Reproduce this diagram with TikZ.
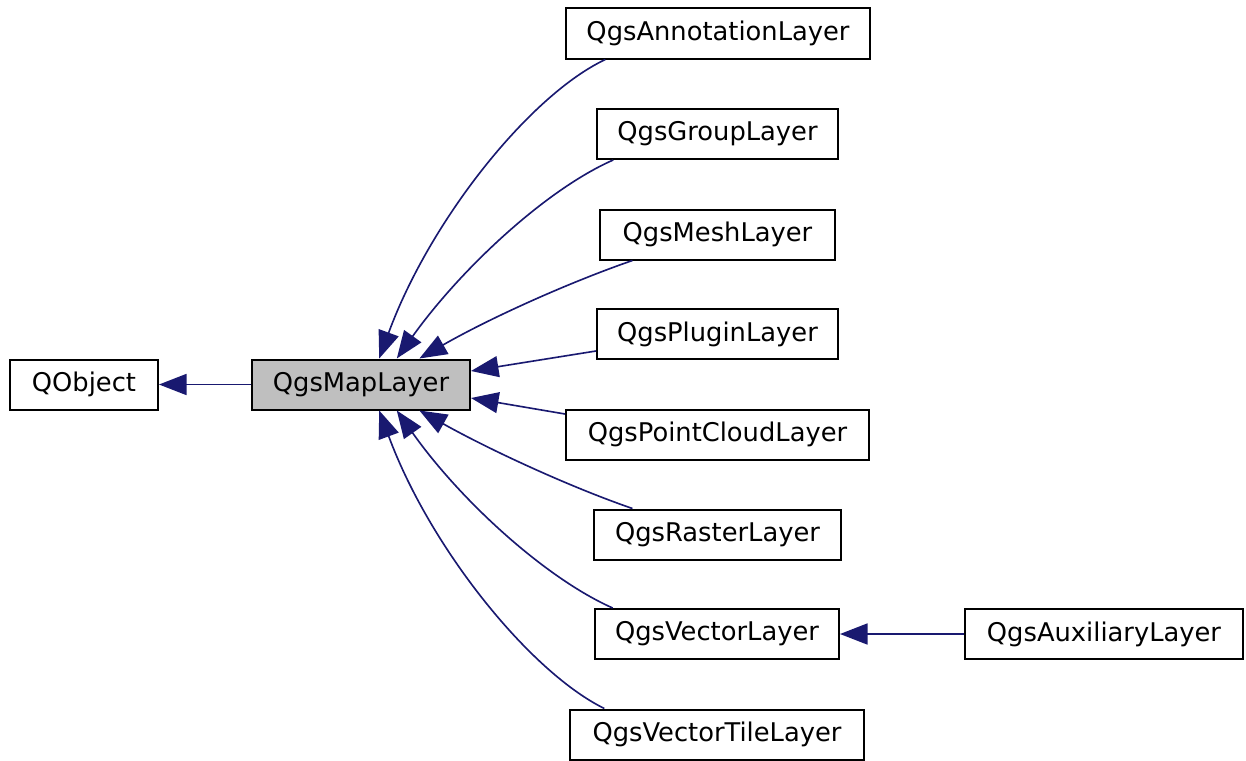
\documentclass[tikz,border=0pt]{standalone}
\usepackage{fontspec}
\setmainfont{DejaVu Sans}
\usetikzlibrary{arrows.meta}

\definecolor{edgeblue}{RGB}{25,25,112}
\definecolor{mapgray}{RGB}{191,191,191}

\begin{document}
\begin{tikzpicture}[x=0.4pt,y=-0.4pt,
    cls/.style={draw=black,line width=0.8pt,fill=white,inner sep=0pt,
      minimum height=20pt,font=\fontsize{10.3}{12}\selectfont},
    inh/.style={draw=edgeblue,line width=0.65pt,
      -{Triangle[length=11pt,width=8.4pt]},edgeblue}]
     \useasboundingbox (0,0) rectangle (1246,760);
     % classes
     \node[cls,minimum width=59.2pt] (qobject) at (84,384.5) {QObject};
     \node[cls,fill=mapgray,minimum width=87.2pt] (maplayer) at (361,384.5) {QgsMapLayer};
     \node[cls,minimum width=121.6pt] (annotation) at (718,33.5) {QgsAnnotationLayer};
     \node[cls,minimum width=96.4pt] (group) at (717.5,134) {QgsGroupLayer};
     \node[cls,minimum width=94pt] (mesh) at (717.5,234.5) {QgsMeshLayer};
     \node[cls,minimum width=96.4pt] (plugin) at (717.5,334) {QgsPluginLayer};
     \node[cls,minimum width=121.2pt] (pointcloud) at (717.5,434.5) {QgsPointCloudLayer};
     \node[cls,minimum width=98.8pt] (raster) at (717.5,534.5) {QgsRasterLayer};
     \node[cls,minimum width=97.6pt] (vector) at (717,634) {QgsVectorLayer};
     \node[cls,minimum width=111.2pt] (auxiliary) at (1104,634) {QgsAuxiliaryLayer};
     \node[cls,minimum width=117.6pt] (vectortile) at (717,734.5) {QgsVectorTileLayer};
     % inheritance
     \draw[inh] (maplayer) -- (qobject);
     \draw[inh] (auxiliary) -- (vector);
     \draw[inh] (annotation.193) .. controls (530,95) and (430,220) .. (maplayer.55);
     \draw[inh] (group.194) .. controls (545,190) and (460,270) .. (maplayer.36);
     \draw[inh] (mesh.197) .. controls (570,282) and (490,318) .. (maplayer.24);
     \draw[inh] (plugin.west |- 0,351) -- (maplayer.7);
     \draw[inh] (pointcloud.west |- 0,414) -- (maplayer.-7);
     \draw[inh] (raster.163) .. controls (570,487) and (490,450) .. (maplayer.-24);
     \draw[inh] (vector.166) .. controls (545,578) and (460,500) .. (maplayer.-36);
     \draw[inh] (vectortile.167) .. controls (530,672) and (430,548) .. (maplayer.-55);
\end{tikzpicture}
\end{document}
